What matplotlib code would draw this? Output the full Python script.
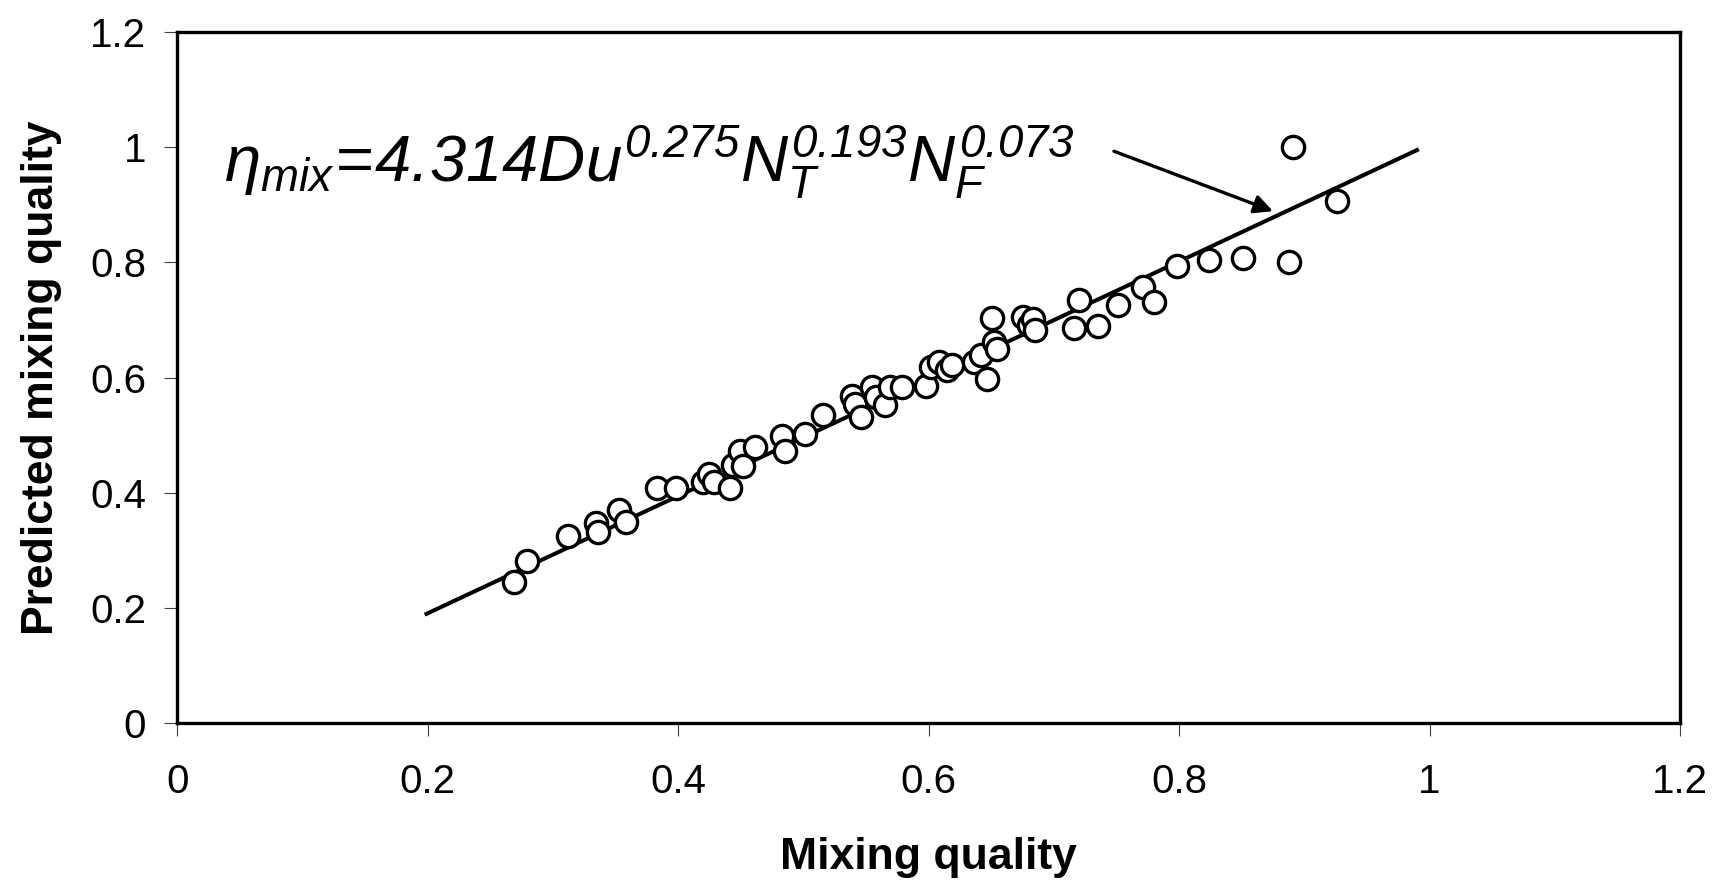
import matplotlib
matplotlib.use("Agg")
import matplotlib.pyplot as plt

plt.rcParams['font.family'] = ['Liberation Sans', 'DejaVu Sans']
plt.rcParams['mathtext.fontset'] = 'custom'
plt.rcParams['mathtext.rm'] = 'Liberation Sans:italic'
plt.rcParams['mathtext.it'] = 'Liberation Sans:italic'
plt.rcParams['mathtext.bf'] = 'Liberation Sans:bold'

# measured vs predicted mixing quality
mixing = [0.269, 0.279, 0.312, 0.334, 0.336, 0.353, 0.358, 0.383, 0.398, 0.420,
          0.425, 0.429, 0.441, 0.444, 0.449, 0.452, 0.461, 0.483, 0.485, 0.501,
          0.516, 0.539, 0.541, 0.546, 0.555, 0.558, 0.565, 0.569, 0.579, 0.598,
          0.602, 0.608, 0.615, 0.619, 0.636, 0.642, 0.647, 0.651, 0.652, 0.655,
          0.675, 0.680, 0.683, 0.685, 0.716, 0.720, 0.735, 0.751, 0.771, 0.780,
          0.798, 0.824, 0.851, 0.888, 0.891, 0.926]
predicted = [0.246, 0.281, 0.326, 0.347, 0.332, 0.370, 0.349, 0.409, 0.409, 0.419,
             0.432, 0.419, 0.409, 0.449, 0.472, 0.447, 0.480, 0.499, 0.472, 0.502,
             0.536, 0.569, 0.554, 0.531, 0.584, 0.567, 0.552, 0.584, 0.584, 0.586,
             0.618, 0.627, 0.614, 0.622, 0.627, 0.639, 0.597, 0.703, 0.662, 0.650,
             0.705, 0.692, 0.701, 0.682, 0.686, 0.734, 0.690, 0.726, 0.758, 0.732,
             0.794, 0.804, 0.808, 0.800, 1.001, 0.906]

# fitted line end points
fit_x = [0.199, 0.990]
fit_y = [0.190, 0.995]

ticks = [0, 0.2, 0.4, 0.6, 0.8, 1, 1.2]
tick_labels = ['0', '0.2', '0.4', '0.6', '0.8', '1', '1.2']

fig = plt.figure(figsize=(17.16, 8.86), dpi=100)
ax = fig.add_axes([0.1033, 0.1836, 0.8757, 0.7803])

ax.plot(fit_x, fit_y, color='black', lw=2.9, zorder=2)
ax.plot(mixing, predicted, 'o', ms=16, mfc='white', mec='black', mew=2.4, zorder=3)

ax.set_xlim(0, 1.2)
ax.set_ylim(0, 1.2)
ax.set_xticks(ticks)
ax.set_xticklabels(tick_labels)
ax.set_yticks(ticks)
ax.set_yticklabels(tick_labels)
ax.tick_params(axis='both', direction='out', length=9.5, width=0.8,
               color='#404040', labelsize=29)
ax.tick_params(axis='x', pad=19)
ax.tick_params(axis='y', pad=13)
for s in ax.spines.values():
    s.set_linewidth(2.4)

ax.set_xlabel('Mixing quality', fontsize=32, fontweight='bold', labelpad=26)
ax.set_ylabel('Predicted mixing quality', fontsize=32, fontweight='bold', labelpad=20)

ax.text(0.037, 0.942,
        r'$\eta_{mix}\!=\!4.314Du^{0.275}N_T^{0.193}N_F^{0.073}$',
        fontsize=47, va='baseline', ha='left')
ax.annotate('', xy=(0.875, 0.889), xytext=(0.748, 0.993),
            arrowprops=dict(arrowstyle='-|>', color='black', lw=2.4,
                            mutation_scale=28, shrinkA=0, shrinkB=0))

fig.savefig('out.png', dpi=100)
